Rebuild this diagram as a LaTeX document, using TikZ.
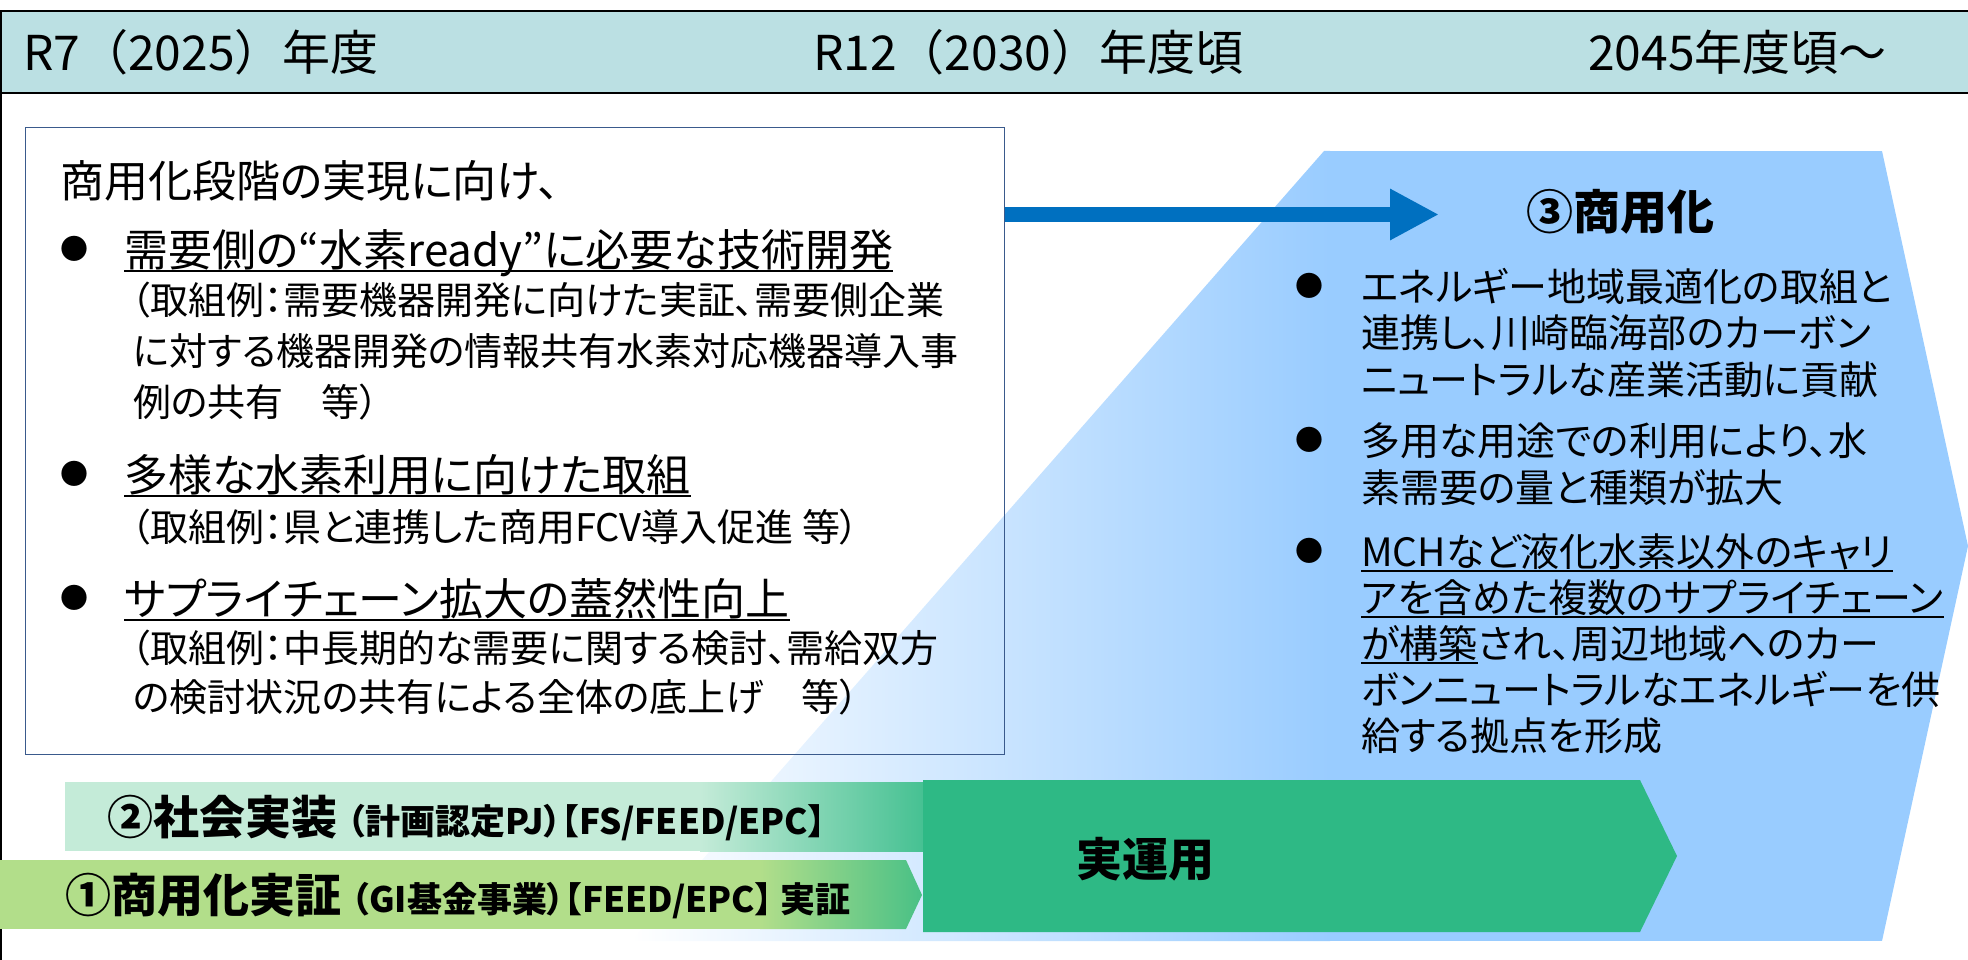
\documentclass[tikz,border=0pt]{standalone}
\usepackage{fontspec}
\setmainfont{Noto Sans CJK JP}[RawFeature={+palt}]
\newfontfamily\hdrfont{Noto Sans CJK JP}
\usetikzlibrary{arrows.meta,calc}
\definecolor{hdrfill}{HTML}{BBE0E3}
\definecolor{polyblue}{HTML}{99CCFF}
\definecolor{arrowblue}{HTML}{0070C0}
\definecolor{opgreen}{HTML}{2EB985}
\definecolor{mint}{HTML}{C4EBD8}
\definecolor{lgreen}{HTML}{B2DE8A}
\definecolor{boxline}{HTML}{3A5A8C}
\begin{document}
\begin{tikzpicture}[x=1pt,y=-1pt,
  hdr/.style={font=\hdrfont\fontsize{48}{54}\selectfont, anchor=base west, inner sep=0pt},
  big/.style={font=\fontsize{44}{50}\selectfont, anchor=base west, inner sep=0pt},
  small/.style={font=\fontsize{38}{44}\selectfont, anchor=base west, inner sep=0pt},
  rtext/.style={font=\fontsize{39}{46}\selectfont, anchor=base west, inner sep=0pt},
  dot/.style={font=\fontsize{28}{28}\selectfont, inner sep=0pt},
  barbig/.style={font=\bfseries\fontsize{46}{50}\selectfont, anchor=base west, inner sep=0pt},
  barsmall/.style={font=\bfseries\fontsize{35}{40}\selectfont, anchor=base west, inner sep=0pt},
  uline/.style={line width=1.8pt}]
\useasboundingbox (0,0) rectangle (1968,960);
% header band
\draw[fill=hdrfill, line width=2pt] (1,11) rectangle (1972,93);
\draw[line width=2pt] (1,93) -- (1,961);
\node[hdr] (h1) at (23,71) {R7（2025）年度};
\node[hdr] (h2) at (813,71) {R12（2030）年度頃};
\node[hdr] (h3) at (1588,71) {2045年度頃～};
% commercialisation area
\begin{scope}
  \clip (1324,151) -- (1882,151) -- (1968,546) -- (1882,941) -- (631,941) -- cycle;
  \shade[left color=white, right color=polyblue] (631,151) rectangle (1330,941);
  \fill[polyblue] (1329,151) rectangle (1970,941);
\end{scope}
% left text box
\node[draw=boxline, line width=1.3pt, minimum width=979pt, minimum height=627pt, inner sep=0pt, anchor=north west] (box) at (25,127) {};
\coordinate (arrowy) at (0,214.5);
\coordinate (arrowtip) at (1439,214.5);
\draw[arrowblue, line width=15pt, -{Triangle[width=48pt,length=49pt]}] (box.east |- arrowy) -- (arrowtip);
% left box texts
\node[big] (title) at (60,198) {商用化段階の実現に向け、};
\node[dot] (d1) at (74,249) {●};
\node[big] (l1) at (124,266) {需要側の“水素ready”に必要な技術開発};
\draw[uline] ($(l1.base west)+(0,5)$) -- ($(l1.base east)+(0,5)$);
\node[small] (s1a) at (131,314) {（取組例：需要機器開発に向けた実証、需要側企業};
\node[small] (s1b) at (133,365) {に対する機器開発の情報共有水素対応機器導入事};
\node[small] (s1c) at (133,416) {例の共有　等）};
\node[dot] (d2) at (74,474) {●};
\node[big] (l2) at (124,491) {多様な水素利用に向けた取組};
\draw[uline] ($(l2.base west)+(0,5)$) -- ($(l2.base east)+(0,5)$);
\node[small] (s2a) at (131,541) {（取組例：県と連携した商用FCV導入促進 等）};
\node[dot] (d3) at (74,598) {●};
\node[big] (l3) at (124,615) {サプライチェーン拡大の蓋然性向上};
\draw[uline] ($(l3.base west)+(0,5)$) -- ($(l3.base east)+(0,5)$);
\node[small] (s3a) at (131,662) {（取組例：中長期的な需要に関する検討、需給双方};
\node[small] (s3b) at (133,711) {の検討状況の共有による全体の底上げ　等）};
% right texts
\node[barbig, font=\bfseries\fontsize{47}{52}\selectfont] (c3) at (1526,230) {③商用化};
\node[dot] (r1) at (1309,286) {●};
\node[rtext] (r1a) at (1361,301) {エネルギー地域最適化の取組と};
\node[rtext] (r1b) at (1361,347) {連携し、川崎臨海部のカーボン};
\node[rtext] (r1c) at (1361,394) {ニュートラルな産業活動に貢献};
\node[dot] (r2) at (1309,440) {●};
\node[rtext] (r2a) at (1361,455) {多用な用途での利用により、水};
\node[rtext] (r2b) at (1361,502) {素需要の量と種類が拡大};
\node[dot] (r3) at (1309,551) {●};
\node[rtext] (r3a) at (1361,566) {MCHなど液化水素以外のキャリ};
\draw[uline] ($(r3a.base west)+(0,5)$) -- ($(r3a.base east)+(0,5)$);
\node[rtext] (r3b) at (1361,612) {アを含めた複数のサプライチェーン};
\draw[uline] ($(r3b.base west)+(0,5)$) -- ($(r3b.base east)+(0,5)$);
\node[rtext] (r3c) at (1361,658) {が構築};
\draw[uline] ($(r3c.base west)+(0,5)$) -- ($(r3c.base east)+(0,5)$);
\node[rtext] (r3d) at (r3c.base east) {され、周辺地域へのカー};
\node[rtext] (r3e) at (1361,704) {ボンニュートラルなエネルギーを供};
\node[rtext] (r3f) at (1361,750) {給する拠点を形成};
% bars
\fill[mint] (65,782) rectangle (701,851);
\shade[left color=mint, right color=opgreen!85!mint] (700,782) rectangle (926,851);
\begin{scope}
  \clip (0,860) -- (906,860) -- (922,895) -- (906,929) -- (0,929) -- cycle;
  \fill[lgreen] (0,860) rectangle (761,929);
  \shade[left color=lgreen, right color=opgreen!80!lgreen] (760,860) rectangle (923,929);
\end{scope}
\fill[opgreen] (923,780) -- (1640,780) -- (1677,856) -- (1640,932) -- (923,932) -- cycle;
\node[barbig] (b2a) at (107,834) {②社会実装};
\node[barsmall] (b2b) at ($(b2a.base east)+(10,0)$) {（計画認定PJ）【FS/FEED/EPC】};
\node[barbig] (b1a) at (65,912) {①商用化実証};
\node[barsmall] (b1b) at ($(b1a.base east)+(10,0)$) {（GI基金事業）【FEED/EPC】 実証};
\node[font=\bfseries\fontsize{46}{50}\selectfont, inner sep=0pt] (ops) at (1145,859) {実運用};
\end{tikzpicture}
\end{document}
